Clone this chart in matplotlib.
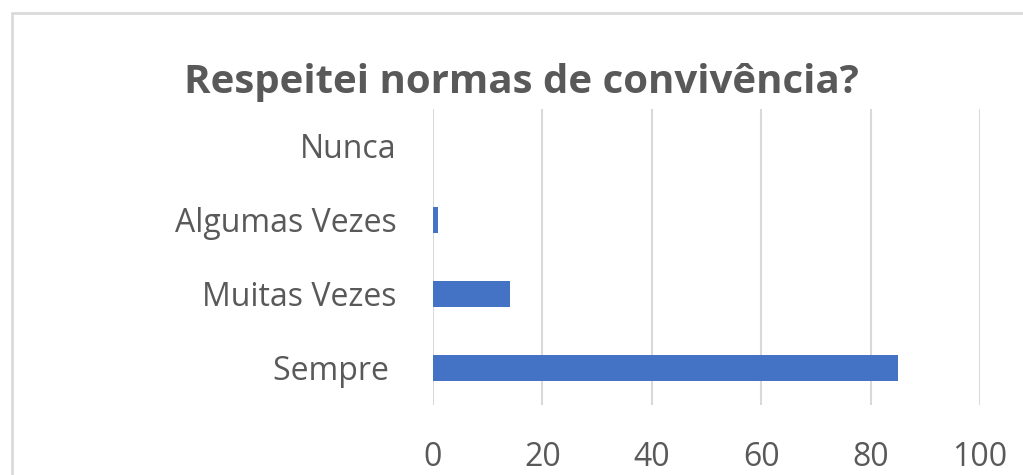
import matplotlib
matplotlib.use("Agg")
import matplotlib.pyplot as plt
from matplotlib.patches import Rectangle

categories = ["Sempre ", "Muitas Vezes", "Algumas Vezes", "Nunca"]
values = [85, 14, 1, 0]
x_ticks = [0, 20, 40, 60, 80, 100]
title = "Respeitei normas de convivência?"

W, H, DPI = 1023, 475, 100
text_color = "#595959"
grid_color = "#d9d9d9"
bar_color = "#4472C4"

plt.rcParams["font.family"] = ["Open Sans", "DejaVu Sans"]

fig = plt.figure(figsize=(W / DPI, H / DPI), dpi=DPI)
fig.patch.set_facecolor("white")

# chart-area outline (runs off the right and bottom edges)
fig.patches.append(Rectangle((12 / W, -0.2), 1.2, (H - 13) / H + 0.2,
                             transform=fig.transFigure, fill=False,
                             edgecolor=grid_color, linewidth=1.9, zorder=0))

left, right, top, bottom = 433, 980, 109, 405
ax = fig.add_axes([left / W, (H - bottom) / H, (right - left) / W, (bottom - top) / H])

ypos = list(range(len(categories)))
ax.barh(ypos, values, height=0.35, color=bar_color, zorder=3)

ax.set_xlim(0, 100)
ax.set_ylim(-0.5, len(categories) - 0.5)
ax.set_xticks(x_ticks)
ax.set_xticklabels([str(t) for t in x_ticks])
ax.set_yticks(ypos)
ax.set_yticklabels(categories)

ax.grid(axis="x", color=grid_color, linewidth=1.5, zorder=0)
ax.grid(axis="y", visible=False)
for s in ax.spines.values():
    s.set_visible(False)

ax.tick_params(axis="both", length=0, labelcolor=text_color, labelsize=23)
ax.tick_params(axis="x", pad=26)
ax.tick_params(axis="y", pad=26)

fig.text(521 / W, (H - 93) / H, title, ha="center", va="baseline",
         fontsize=29, fontweight="bold", color=text_color)

fig.savefig("out.png", dpi=DPI)
